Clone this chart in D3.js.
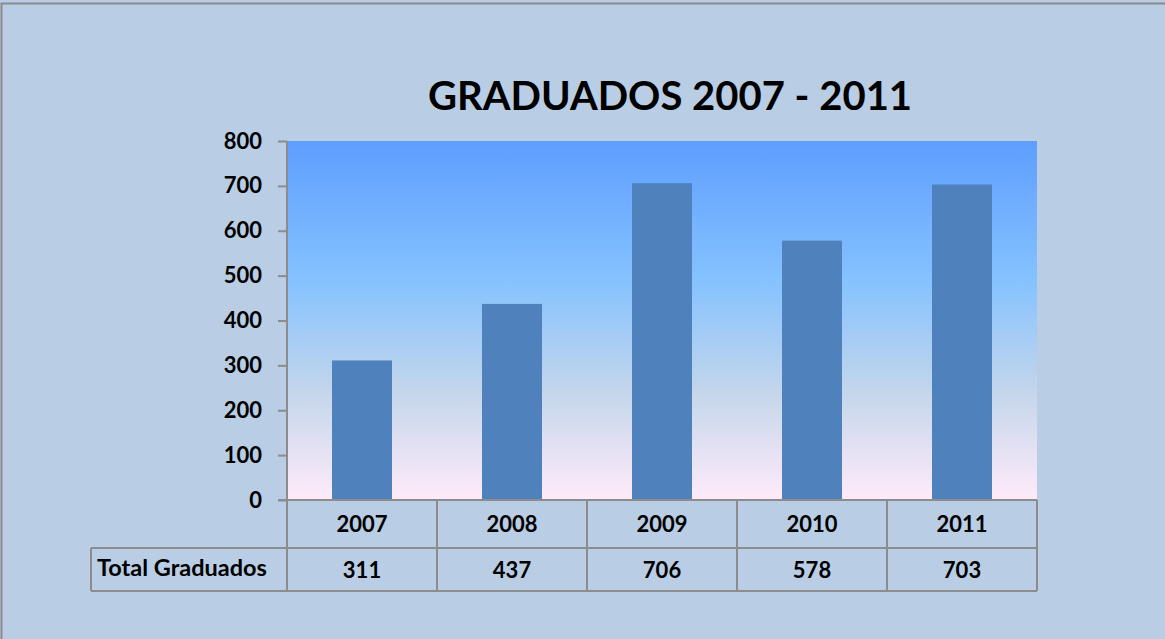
<!DOCTYPE html>
<html>
<head>
<meta charset="utf-8">
<script src="https://cdn.jsdelivr.net/npm/d3@7"></script>
<style>
	body { margin: 0; background: #b9cde5; }
	svg { display: block; }
	text { font-family: Lato, "Open Sans", sans-serif; font-weight: bold; fill: #000; }
</style>
</head>
<body>
<div id="chart"></div>
<script>
const years = ['2007', '2008', '2009', '2010', '2011'];
const graduados = [311, 437, 706, 578, 703];
const yTicks = [0, 100, 200, 300, 400, 500, 600, 700, 800];
const seriesName = 'Total Graduados';
const title = 'GRADUADOS 2007 - 2011';

const width = 1165, height = 639;
const plot = {left: 287, right: 1037, top: 141, bottom: 500};
const rowH = [48, 43];

const svg = d3.select('#chart').append('svg')
	.attr('width', width)
	.attr('height', height);

// Daybreak style gradient of the plot area
const grad = svg.append('defs').append('linearGradient')
	.attr('id', 'daybreak')
	.attr('x1', 0).attr('y1', 0).attr('x2', 0).attr('y2', 1);
[['0%', '#5e9eff'], ['39%', '#85c2ff'], ['70%', '#c4d6eb'], ['100%', '#ffebfa']].forEach(s => {
	grad.append('stop').attr('offset', s[0]).attr('stop-color', s[1]);
});

// outer frame, only top and left edges are inside the picture
svg.append('rect')
	.attr('x', 1.5).attr('y', 3.5)
	.attr('width', width + 10).attr('height', height + 10)
	.attr('fill', '#b9cde5')
	.attr('stroke', '#8c8c8c')
	.attr('stroke-width', 2);

const x = d3.scaleBand()
	.domain(years)
	.range([plot.left, plot.right])
	.paddingInner(0.6)
	.paddingOuter(0.3);

const y = d3.scaleLinear()
	.domain([0, 800])
	.range([plot.bottom, plot.top]);

svg.append('rect')
	.attr('x', plot.left).attr('y', plot.top)
	.attr('width', plot.right - plot.left).attr('height', plot.bottom - plot.top)
	.attr('fill', 'url(#daybreak)');

svg.append('g')
	.selectAll('rect')
	.data(graduados)
	.enter().append('rect')
	.attr('x', (d, i) => x(years[i]))
	.attr('y', d => y(d))
	.attr('width', x.bandwidth())
	.attr('height', d => y(0) - y(d))
	.attr('fill', '#4f81bd');

// value axis
const yAxis = svg.append('g')
	.attr('transform', `translate(${plot.left},0)`)
	.call(d3.axisLeft(y).tickValues(yTicks).tickSize(9).tickPadding(16));
yAxis.select('.domain').remove();
yAxis.selectAll('line').attr('stroke', '#8c8c8c').attr('stroke-width', 2);
yAxis.selectAll('text')
	.style('font-family', 'Lato, sans-serif')
	.style('font-size', '22px')
	.style('font-weight', 'bold')
	.attr('fill', '#000');
svg.append('line')
	.attr('x1', plot.left).attr('x2', plot.left)
	.attr('y1', plot.top).attr('y2', plot.bottom + rowH[0] + rowH[1])
	.attr('stroke', '#8c8c8c').attr('stroke-width', 2);

// data table
const step = x.step();
const colLeft = years.map(c => x(c) - x.paddingInner() * step / 2);
const tableLines = svg.append('g').attr('stroke', '#8c8c8c').attr('stroke-width', 2);
const yRow1 = plot.bottom + rowH[0];
const yRow2 = yRow1 + rowH[1];
tableLines.append('line').attr('x1', plot.left - 9).attr('x2', plot.right).attr('y1', plot.bottom).attr('y2', plot.bottom);
tableLines.append('line').attr('x1', 91).attr('x2', plot.right).attr('y1', yRow1).attr('y2', yRow1);
tableLines.append('line').attr('x1', 91).attr('x2', plot.right).attr('y1', yRow2).attr('y2', yRow2);
tableLines.append('line').attr('x1', 91).attr('x2', 91).attr('y1', yRow1).attr('y2', yRow2);
tableLines.selectAll('line.col')
	.data(years)
	.enter().append('line')
	.attr('class', 'col')
	.attr('x1', (d, i) => colLeft[i] + step).attr('x2', (d, i) => colLeft[i] + step)
	.attr('y1', plot.bottom).attr('y2', yRow2);

svg.append('g')
	.selectAll('text')
	.data(years)
	.enter().append('text')
	.attr('x', d => x(d) + x.bandwidth() / 2)
	.attr('y', plot.bottom + rowH[0] / 2 + 8)
	.attr('text-anchor', 'middle')
	.style('font-size', '22px')
	.text(d => d);

svg.append('g')
	.selectAll('text')
	.data(graduados)
	.enter().append('text')
	.attr('x', (d, i) => x(years[i]) + x.bandwidth() / 2)
	.attr('y', yRow1 + rowH[1] / 2 + 8)
	.attr('text-anchor', 'middle')
	.style('font-size', '22px')
	.text(d => d);

svg.append('text')
	.attr('x', 97)
	.attr('y', yRow1 + rowH[1] / 2 + 6)
	.style('font-size', '23.5px')
	.text(seriesName);

svg.append('text')
	.attr('x', 670)
	.attr('y', 110)
	.attr('text-anchor', 'middle')
	.style('font-size', '40px')
	.text(title);
</script>
</body>
</html>
